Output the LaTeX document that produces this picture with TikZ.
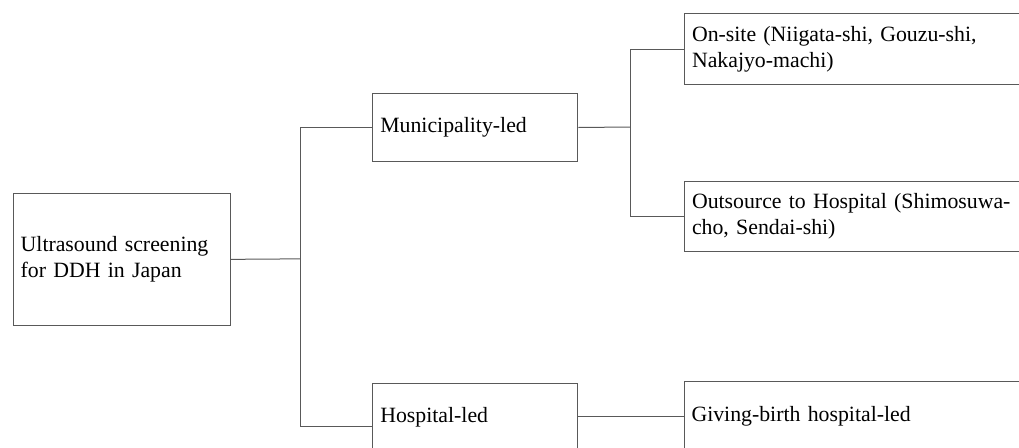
\documentclass[tikz,border=0pt]{standalone}
\usepackage{fontspec}
\setmainfont{Liberation Serif}
\begin{document}
\begin{tikzpicture}[x=1pt,y=-1pt,
  box/.style={draw=black!65, line width=1pt, rectangle, anchor=north west,
    inner xsep=7.5pt, inner ysep=0pt, align=left,
    font=\fontsize{21.8}{26}\selectfont, text=black},
  link/.style={draw=black!65, line width=1pt}]
\useasboundingbox (0,0) rectangle (1019,447);
\clip (0,0) rectangle (1019,447);
\node[box, minimum width=217.3pt, minimum height=132.3pt, text width=202.3pt] (b1) at (12.7,192.7) {Ultrasound screening\\for DDH in Japan};
\node[box, minimum width=205pt, minimum height=68.6pt, text width=190pt] (b2) at (372.3,92.7) {Municipality-led};
\node[box, minimum width=205pt, minimum height=68.6pt, text width=190pt] (b3) at (372.3,382.7) {Hospital-led};
\node[box, minimum width=380pt, minimum height=70.7pt, text width=365pt] (b4) at (684,13.3) {On-site (Niigata-shi, Gouzu-shi,\\Nakajyo-machi)};
\node[box, minimum width=380pt, minimum height=70.6pt, text width=365pt] (b5) at (684,180.7) {Outsource to Hospital (Shimosuwa-\\cho, Sendai-shi)};
\node[box, minimum width=380pt, minimum height=70pt, text width=365pt] (b6) at (683.5,381) {Giving-birth hospital-led};
\coordinate (j1) at (300,258.85);
\coordinate (j2) at (630,127);
\draw[link] (b1.east) -- (j1);
\draw[link] (b2.west) -| (j1);
\draw[link] ([yshift=-8.7pt]b3.west) -| (j1);
\draw[link] (b2.east) -- (j2);
\draw[link] (b4.west) -| (j2);
\draw[link] (b5.west) -| (j2);
\draw[link] (b3.east |- b6.west) -- (b6.west);
\end{tikzpicture}
\end{document}
